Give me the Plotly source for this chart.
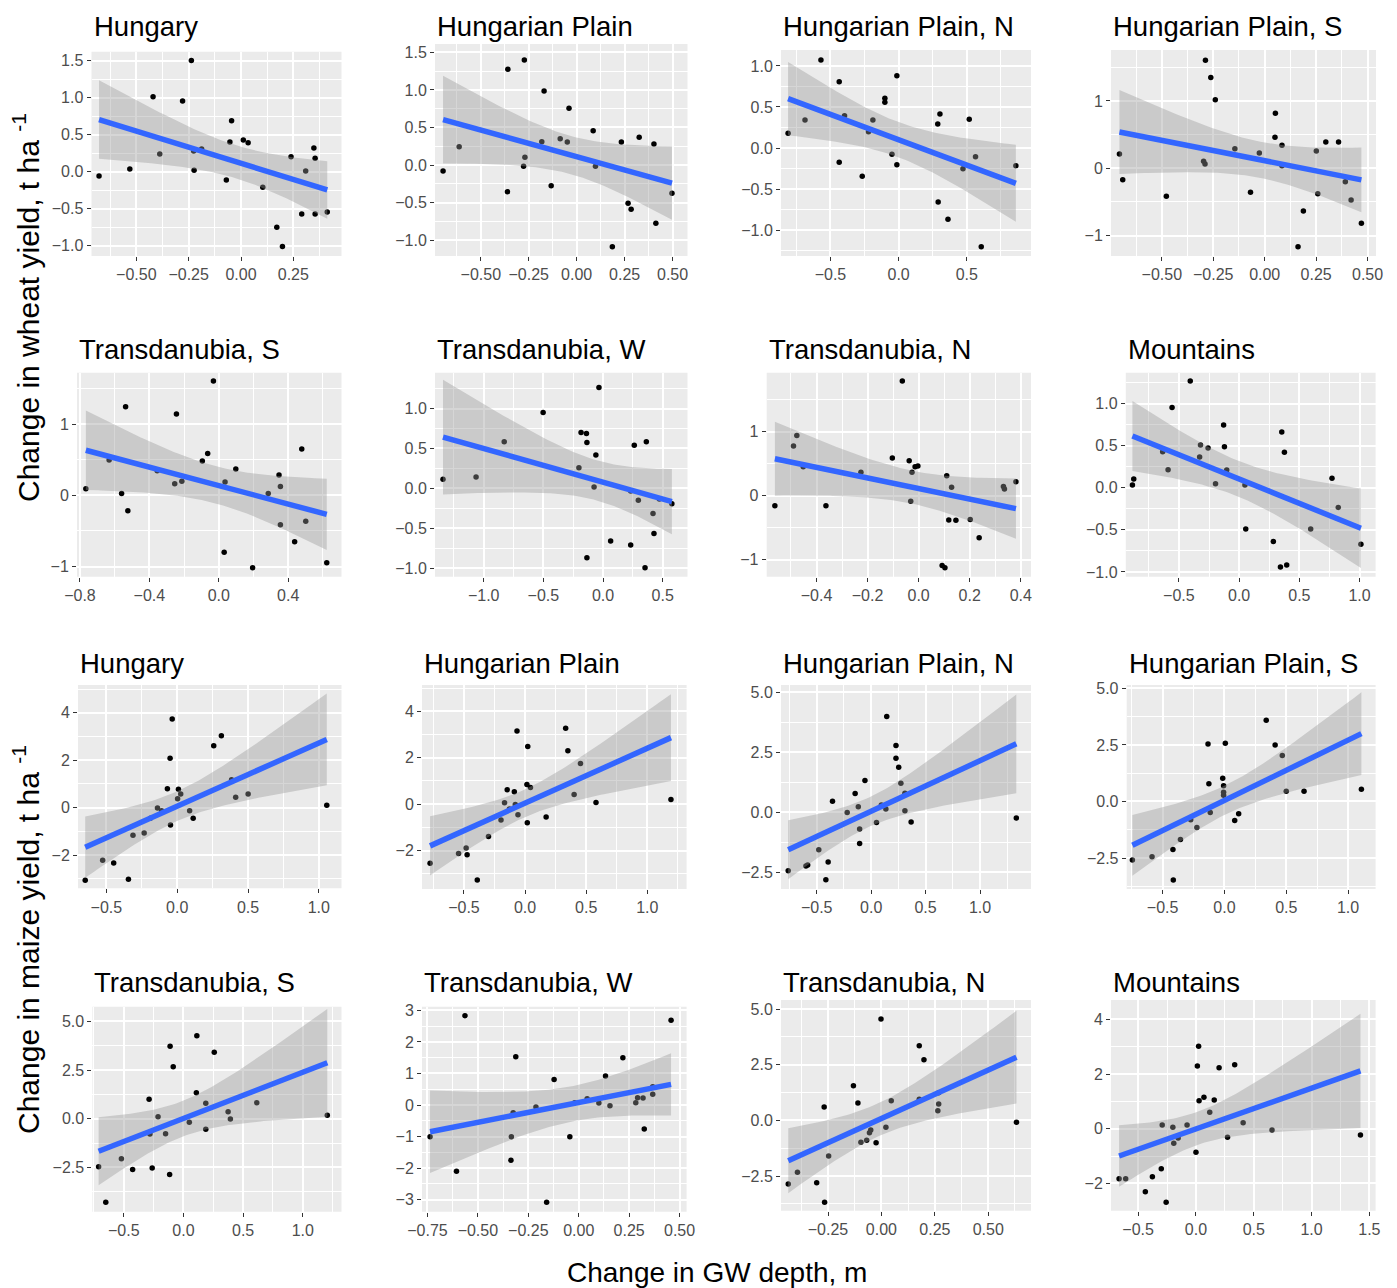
import numpy as np
import plotly.graph_objects as go

# ---------------- data ----------------
TITLES = ["Hungary", "Hungarian Plain", "Hungarian Plain, N", "Hungarian Plain, S",
          "Transdanubia, S", "Transdanubia, W", "Transdanubia, N", "Mountains",
          "Hungary", "Hungarian Plain", "Hungarian Plain, N", "Hungarian Plain, S",
          "Transdanubia, S", "Transdanubia, W", "Transdanubia, N", "Mountains"]

# Wheat
W_HU_X = [-0.678,-0.531,-0.42,-0.388,-0.279,-0.237,-0.226,-0.224,-0.188,-0.07,-0.053,-0.045,0.011,0.034,0.104,0.171,0.198,0.239,0.29,0.309,0.348,0.354,0.354,0.412]
W_HU_Y = [-0.058,0.036,1.01,0.238,0.953,1.50,0.279,0.018,0.306,-0.112,0.40,0.688,0.427,0.391,-0.211,-0.751,-1.011,0.202,-0.571,0.009,0.319,0.18,-0.571,-0.544]
W_HP_X = [-0.697,-0.613,-0.359,-0.361,-0.273,-0.27,-0.277,-0.182,-0.17,-0.133,-0.086,-0.049,-0.04,0.086,0.098,0.186,0.233,0.268,0.284,0.326,0.403,0.413,0.497]
W_HP_Y = [-0.08,0.244,1.276,-0.356,1.40,0.102,-0.018,0.311,0.987,-0.276,0.351,0.307,0.756,0.458,-0.018,-1.089,0.307,-0.511,-0.591,0.369,0.28,-0.778,-0.378]
W_HPN_X = [-0.811,-0.687,-0.57,-0.436,-0.436,-0.397,-0.267,-0.221,-0.189,-0.101,-0.101,-0.049,-0.013,-0.013,0.287,0.303,0.29,0.362,0.518,0.472,0.564,0.606,0.86]
W_HPN_Y = [0.179,0.341,1.073,0.809,-0.175,0.394,-0.346,0.199,0.341,0.606,0.557,-0.077,0.882,-0.203,0.293,0.415,-0.659,-0.87,0.35,-0.252,-0.106,-1.203,-0.215]
W_HPS_X = [-0.706,-0.69,-0.478,-0.297,-0.29,-0.288,-0.262,-0.24,-0.145,-0.069,-0.026,0.052,0.05,0.084,0.084,0.162,0.188,0.251,0.258,0.297,0.359,0.392,0.42,0.47]
W_HPS_Y = [0.213,-0.168,-0.416,0.104,0.064,1.604,1.347,1.02,0.292,-0.356,0.228,0.817,0.46,0.342,0.04,-1.163,-0.634,0.257,-0.376,0.391,0.391,-0.198,-0.47,-0.817]
W_TS_X = [-0.766,-0.632,-0.56,-0.537,-0.524,-0.355,-0.254,-0.244,-0.213,-0.095,-0.064,-0.031,0.031,0.036,0.098,0.195,0.285,0.347,0.355,0.355,0.437,0.478,0.501,0.622]
W_TS_Y = [0.094,0.496,0.028,1.246,-0.215,0.347,0.164,1.143,0.197,0.482,0.59,1.607,-0.801,0.187,0.37,-1.016,0.028,0.286,0.126,-0.412,-0.651,0.651,-0.365,-0.946]
W_TW_X = [-1.341,-1.064,-0.828,-0.502,-0.202,-0.184,-0.139,-0.135,-0.135,-0.075,-0.06,-0.034,0.064,0.232,0.232,0.262,0.296,0.363,0.352,0.419,0.427,0.472,0.577]
W_TW_Y = [0.113,0.142,0.585,0.952,0.259,0.701,0.689,0.576,-0.868,0.017,0.418,1.265,-0.66,-0.033,-0.71,0.539,-0.15,0.585,-0.994,-0.313,-0.564,-0.134,-0.192]
W_TN_X = [-0.563,-0.49,-0.477,-0.452,-0.363,-0.226,-0.103,-0.064,-0.037,-0.026,-0.031,-0.014,-0.003,0.092,0.103,0.11,0.118,0.129,0.146,0.202,0.237,0.332,0.336,0.381]
W_TN_Y = [-0.156,0.774,0.94,0.452,-0.156,0.364,0.587,1.787,0.545,0.364,-0.088,0.452,0.462,-1.086,-1.122,0.312,-0.379,0.13,-0.384,-0.369,-0.655,0.145,0.104,0.218]
W_MO_X = [-0.886,-0.875,-0.635,-0.59,-0.557,-0.406,-0.328,-0.321,-0.258,-0.196,-0.129,-0.122,-0.103,0.048,0.055,0.284,0.354,0.376,0.343,0.395,0.594,0.771,0.823,1.011]
W_MO_Y = [0.032,0.103,0.428,0.214,0.954,1.267,0.364,0.507,0.471,0.048,0.745,0.487,0.21,0.032,-0.491,-0.638,0.661,0.42,-0.943,-0.919,-0.491,0.111,-0.234,-0.673]

# Maize
M_HU_X = [-0.649,-0.526,-0.448,-0.344,-0.312,-0.233,-0.189,-0.139,-0.11,-0.069,-0.05,-0.047,-0.035,0.003,0.009,0.025,0.088,0.113,0.258,0.312,0.384,0.413,0.501,1.056]
M_HU_Y = [-3.063,-2.22,-2.332,-3.02,-1.166,-1.068,-0.45,-0.014,-0.126,0.80,2.08,-0.73,3.737,0.379,0.773,0.576,-0.126,-0.45,2.613,3.035,1.18,0.436,0.576,0.098]
M_HP_X = [-0.777,-0.544,-0.482,-0.474,-0.391,-0.299,-0.197,-0.168,-0.146,-0.128,-0.088,-0.08,-0.066,-0.058,0.015,0.018,0.022,0.044,0.172,0.332,0.35,0.401,0.453,0.58,1.193]
M_HP_Y = [-2.552,-2.122,-1.892,-2.179,-3.269,-1.391,-0.688,0.057,0.616,-0.215,0.53,-0.014,3.154,-0.459,0.846,-0.803,2.48,0.717,-0.559,3.269,2.294,0.416,1.749,0.072,0.201]
M_HPN_X = [-0.762,-0.599,-0.583,-0.481,-0.416,-0.395,-0.355,-0.22,-0.147,-0.118,-0.106,-0.106,-0.057,0.049,0.094,0.143,0.135,0.228,0.228,0.253,0.273,0.31,0.31,0.367,1.333]
M_HPN_Y = [-2.426,-2.232,-2.19,-1.553,-2.8,-2.066,0.471,0.0,0.79,0.236,-0.693,-1.289,1.331,-0.416,0.305,3.993,0.139,2.787,2.26,1.885,1.22,0.804,0.069,-0.402,-0.236]
M_HPS_X = [-0.745,-0.586,-0.417,-0.414,-0.356,-0.273,-0.223,-0.133,-0.126,-0.115,-0.014,-0.007,-0.007,-0.007,0.007,0.083,0.115,0.338,0.41,0.468,0.5,0.644,1.108]
M_HPS_Y = [-2.588,-2.441,-2.118,-3.471,-1.676,-0.809,-1.147,2.544,0.779,-0.485,1.029,0.691,0.412,0.279,2.574,-0.838,-0.544,3.588,2.5,2.029,0.456,0.456,0.544]
M_TS_X = [-0.711,-0.651,-0.52,-0.426,-0.288,-0.281,-0.262,-0.213,-0.15,-0.116,-0.112,-0.086,0.049,0.108,0.112,0.187,0.187,0.258,0.374,0.393,0.614,1.205]
M_TS_Y = [-2.466,-4.298,-2.055,-2.603,0.993,-0.788,-2.534,0.103,-0.771,-2.86,3.716,2.671,-0.188,1.336,4.264,0.788,-0.548,3.408,0.36,-0.017,0.822,0.171]
M_TW_X = [-0.737,-0.606,-0.564,-0.334,-0.336,-0.325,-0.312,-0.212,-0.159,-0.122,-0.044,-0.02,0.042,0.1,0.133,0.155,0.219,0.283,0.292,0.319,0.325,0.367,0.367,0.458]
M_TW_Y = [-1.003,-2.102,2.831,-1.003,-1.753,-0.243,1.532,-0.063,-3.084,0.813,-1.003,0.074,0.2,0.063,0.919,-0.021,1.5,0.074,0.232,0.222,-0.761,0.338,0.581,2.683]
M_TN_X = [-0.436,-0.393,-0.303,-0.268,-0.266,-0.247,-0.131,-0.11,-0.096,-0.069,-0.056,-0.05,-0.025,-0.002,0.021,0.046,0.177,0.177,0.199,0.264,0.268,0.268,0.632]
M_TN_Y = [-2.859,-2.335,-2.799,0.599,-3.683,-1.602,1.557,0.778,-0.988,-0.898,-0.554,-0.434,-1.003,4.551,-0.314,0.883,3.353,0.943,2.725,0.434,0.734,1.243,-0.09]
M_MO_X = [-0.665,-0.608,-0.438,-0.377,-0.3,-0.292,-0.258,-0.2,-0.192,-0.154,-0.077,0.0,0.012,0.023,0.027,0.069,0.119,0.158,0.2,0.273,0.335,0.408,0.658,1.423]
M_MO_Y = [-1.829,-1.829,-2.305,-1.756,-1.463,0.134,-2.695,0.049,-0.537,-0.341,0.134,-0.866,2.293,3.012,1.024,1.146,0.598,1.049,2.232,-0.317,2.341,0.22,-0.049,-0.232]

XS = [W_HU_X, W_HP_X, W_HPN_X, W_HPS_X, W_TS_X, W_TW_X, W_TN_X, W_MO_X,
      M_HU_X, M_HP_X, M_HPN_X, M_HPS_X, M_TS_X, M_TW_X, M_TN_X, M_MO_X]
YS = [W_HU_Y, W_HP_Y, W_HPN_Y, W_HPS_Y, W_TS_Y, W_TW_Y, W_TN_Y, W_MO_Y,
      M_HU_Y, M_HP_Y, M_HPN_Y, M_HPS_Y, M_TS_Y, M_TW_Y, M_TN_Y, M_MO_Y]

# tick values and labels
X_TICKS = [
    [-0.5, -0.25, 0, 0.25], [-0.5, -0.25, 0, 0.25, 0.5], [-0.5, 0, 0.5], [-0.5, -0.25, 0, 0.25, 0.5],
    [-0.8, -0.4, 0, 0.4], [-1.0, -0.5, 0, 0.5], [-0.4, -0.2, 0, 0.2, 0.4], [-0.5, 0, 0.5, 1.0],
    [-0.5, 0, 0.5, 1.0], [-0.5, 0, 0.5, 1.0], [-0.5, 0, 0.5, 1.0], [-0.5, 0, 0.5, 1.0],
    [-0.5, 0, 0.5, 1.0], [-0.75, -0.5, -0.25, 0, 0.25, 0.5], [-0.25, 0, 0.25, 0.5], [-0.5, 0, 0.5, 1.0, 1.5]]
X_LABELS = [
    ["−0.50", "−0.25", "0.00", "0.25"], ["−0.50", "−0.25", "0.00", "0.25", "0.50"], ["−0.5", "0.0", "0.5"],
    ["−0.50", "−0.25", "0.00", "0.25", "0.50"],
    ["−0.8", "−0.4", "0.0", "0.4"], ["−1.0", "−0.5", "0.0", "0.5"], ["−0.4", "−0.2", "0.0", "0.2", "0.4"],
    ["−0.5", "0.0", "0.5", "1.0"],
    ["−0.5", "0.0", "0.5", "1.0"], ["−0.5", "0.0", "0.5", "1.0"], ["−0.5", "0.0", "0.5", "1.0"],
    ["−0.5", "0.0", "0.5", "1.0"],
    ["−0.5", "0.0", "0.5", "1.0"], ["−0.75", "−0.50", "−0.25", "0.00", "0.25", "0.50"],
    ["−0.25", "0.00", "0.25", "0.50"], ["−0.5", "0.0", "0.5", "1.0", "1.5"]]
Y_TICKS = [
    [-1, -0.5, 0, 0.5, 1, 1.5], [-1, -0.5, 0, 0.5, 1, 1.5], [-1, -0.5, 0, 0.5, 1], [-1, 0, 1],
    [-1, 0, 1], [-1, -0.5, 0, 0.5, 1], [-1, 0, 1], [-1, -0.5, 0, 0.5, 1],
    [-2, 0, 2, 4], [-2, 0, 2, 4], [-2.5, 0, 2.5, 5], [-2.5, 0, 2.5, 5],
    [-2.5, 0, 2.5, 5], [-3, -2, -1, 0, 1, 2, 3], [-2.5, 0, 2.5, 5], [-2, 0, 2, 4]]
Y_LABELS = [
    ["−1.0", "−0.5", "0.0", "0.5", "1.0", "1.5"], ["−1.0", "−0.5", "0.0", "0.5", "1.0", "1.5"],
    ["−1.0", "−0.5", "0.0", "0.5", "1.0"], ["−1", "0", "1"],
    ["−1", "0", "1"], ["−1.0", "−0.5", "0.0", "0.5", "1.0"], ["−1", "0", "1"],
    ["−1.0", "−0.5", "0.0", "0.5", "1.0"],
    ["−2", "0", "2", "4"], ["−2", "0", "2", "4"], ["−2.5", "0.0", "2.5", "5.0"], ["−2.5", "0.0", "2.5", "5.0"],
    ["−2.5", "0.0", "2.5", "5.0"], ["−3", "−2", "−1", "0", "1", "2", "3"], ["−2.5", "0.0", "2.5", "5.0"],
    ["−2", "0", "2", "4"]]

# ---------------- layout configuration (pixels / axis ranges) ----------------
W, H = 1397, 1288
BOXES = [  # left, right, top, bottom in px
    (91.5, 341.5, 51.7, 256), (435, 687.5, 44, 256), (781, 1031, 50, 256), (1111, 1376, 50, 256),
    (77, 341.5, 372.7, 576.7), (435, 687.5, 372.7, 576.7), (766.7, 1031, 372.7, 576.7), (1125.8, 1375.6, 372.7, 576.7),
    (78, 341.5, 685, 888.3), (422, 686.6, 685, 889), (781, 1031, 685, 889), (1126.7, 1375.6, 685, 889),
    (92.4, 341.5, 1006.7, 1211.7), (422, 686.6, 1006.7, 1211.7), (781, 1031, 1000, 1210.7), (1111, 1375.6, 1000, 1210.7)]
X_RANGES = [(-0.714, 0.48), (-0.739, 0.578), (-0.863, 0.971), (-0.747, 0.541),
            (-0.817, 0.707), (-1.408, 0.708), (-0.595, 0.44), (-0.941, 1.133),
            (-0.70, 1.16), (-0.843, 1.321), (-0.828, 1.468), (-0.791, 1.223),
            (-0.763, 1.324), (-0.777, 0.535), (-0.47, 0.70), (-0.735, 1.554)]
Y_RANGES = [(-1.14, 1.62), (-1.213, 1.613), (-1.317, 1.195), (-1.302, 1.757),
            (-1.143, 1.724), (-1.106, 1.449), (-1.262, 1.917), (-1.057, 1.366),
            (-3.40, 5.17), (-3.656, 5.13), (-3.19, 5.31), (-3.868, 5.147),
            (-4.777, 5.753), (-3.38, 3.116), (-4.057, 5.404), (-3.0, 4.707)]
TITLE_Y = [23, 23, 23, 23, 346, 346, 346, 346, 660, 660, 660, 660, 979, 979, 979, 979]

FONT = "Liberation Sans, Arial, sans-serif"


def t975(df):
    z = 1.959963985
    g1 = (z**3 + z) / 4
    g2 = (5 * z**5 + 16 * z**3 + 3 * z) / 96
    g3 = (3 * z**7 + 19 * z**5 + 17 * z**3 - 15 * z) / 384
    return z + g1 / df + g2 / df**2 + g3 / df**3


def lm_fit(x, y, n_grid=80):
    x = np.asarray(x, float)
    y = np.asarray(y, float)
    n = len(x)
    xm = x.mean()
    sxx = ((x - xm) ** 2).sum()
    b = ((x - xm) * (y - y.mean())).sum() / sxx
    a = y.mean() - b * xm
    resid = y - (a + b * x)
    s = np.sqrt((resid ** 2).sum() / (n - 2))
    g = np.linspace(x.min(), x.max(), n_grid)
    fit = a + b * g
    se = s * np.sqrt(1 / n + (g - xm) ** 2 / sxx)
    t = t975(n - 2)
    return g, fit, fit - t * se, fit + t * se


def midpoints(vals):
    step = vals[1] - vals[0]
    out = [vals[0] - step / 2]
    for i in range(len(vals) - 1):
        out.append((vals[i] + vals[i + 1]) / 2)
    out.append(vals[-1] + step / 2)
    return out


fig = go.Figure()
layout = dict(
    template="none",
    width=W, height=H, margin=dict(l=0, r=0, t=0, b=0, pad=0, autoexpand=False),
    paper_bgcolor="white", plot_bgcolor="rgba(0,0,0,0)", showlegend=False,
    font=dict(family=FONT, color="#4D4D4D"),
)
shapes = []
annotations = []

for i in range(16):
    k = i + 1
    xa = "x" if k == 1 else f"x{k}"
    ya = "y" if k == 1 else f"y{k}"
    left, right, top, bottom = BOXES[i]
    x, y = XS[i], YS[i]
    g, fit, lo, hi = lm_fit(x, y)

    # points first, then band, then fitted line (ggplot draw order)
    fig.add_trace(go.Scatter(x=x, y=y, mode="markers", xaxis=xa, yaxis=ya,
                             marker=dict(color="black", size=5.5, line=dict(width=0)), hoverinfo="x+y"))
    fig.add_trace(go.Scatter(x=np.concatenate([g, g[::-1]]), y=np.concatenate([hi, lo[::-1]]),
                             mode="lines", fill="toself", fillcolor="rgba(153,153,153,0.4)",
                             line=dict(width=0), xaxis=xa, yaxis=ya, hoverinfo="skip"))
    fig.add_trace(go.Scatter(x=g, y=fit, mode="lines", line=dict(color="#3366FF", width=5.5),
                             xaxis=xa, yaxis=ya, hoverinfo="skip"))

    axis_common = dict(
        automargin=False,
        showgrid=True, gridcolor="white", gridwidth=1.6, zeroline=False, showline=False,
        ticks="outside", ticklen=4, tickwidth=1.3, tickcolor="#333333",
        tickfont=dict(family=FONT, size=16, color="#4D4D4D"), tickmode="array",
    )
    layout["xaxis" if k == 1 else f"xaxis{k}"] = dict(
        axis_common, domain=[left / W, right / W], anchor=ya, range=list(X_RANGES[i]),
        tickvals=X_TICKS[i], ticktext=X_LABELS[i],
        minor=dict(tickmode="array", tickvals=midpoints(X_TICKS[i]), showgrid=True,
                   gridcolor="white", gridwidth=0.7, ticks=""),
    )
    layout["yaxis" if k == 1 else f"yaxis{k}"] = dict(
        axis_common, domain=[1 - bottom / H, 1 - top / H], anchor=xa, range=list(Y_RANGES[i]),
        tickvals=Y_TICKS[i], ticktext=Y_LABELS[i],
        minor=dict(tickmode="array", tickvals=midpoints(Y_TICKS[i]), showgrid=True,
                   gridcolor="white", gridwidth=0.7, ticks=""),
    )
    shapes.append(dict(type="rect", xref=f"{xa} domain", yref=f"{ya} domain",
                       x0=0, x1=1, y0=0, y1=1, fillcolor="#EBEBEB", line=dict(width=0), layer="below"))
    annotations.append(dict(text=TITLES[i], xref="paper", yref="paper", x=left / W,
                            y=1 - (TITLE_Y[i] + 3) / H, xanchor="left", yanchor="middle",
                            showarrow=False, font=dict(family=FONT, size=27.5, color="black")))

annotations.append(dict(text="Change in wheat yield, t ha <sup>-1</sup>", xref="paper", yref="paper",
                        x=26 / W, y=1 - 308 / H, textangle=-90, showarrow=False,
                        xanchor="center", yanchor="middle", font=dict(family=FONT, size=30, color="black")))
annotations.append(dict(text="Change in maize yield, t ha <sup>-1</sup>", xref="paper", yref="paper",
                        x=26 / W, y=1 - 940 / H, textangle=-90, showarrow=False,
                        xanchor="center", yanchor="middle", font=dict(family=FONT, size=30, color="black")))
annotations.append(dict(text="Change in GW depth, m", xref="paper", yref="paper",
                        x=717 / W, y=1 - 1272 / H, showarrow=False,
                        xanchor="center", yanchor="middle", font=dict(family=FONT, size=28, color="black")))

layout["shapes"] = shapes
layout["annotations"] = annotations
fig.update_layout(**layout)
fig.write_html(
    "out.html",
    config={"displayModeBar": False},
    post_script="document.body.style.margin='0';document.body.style.overflow='hidden';",
)
